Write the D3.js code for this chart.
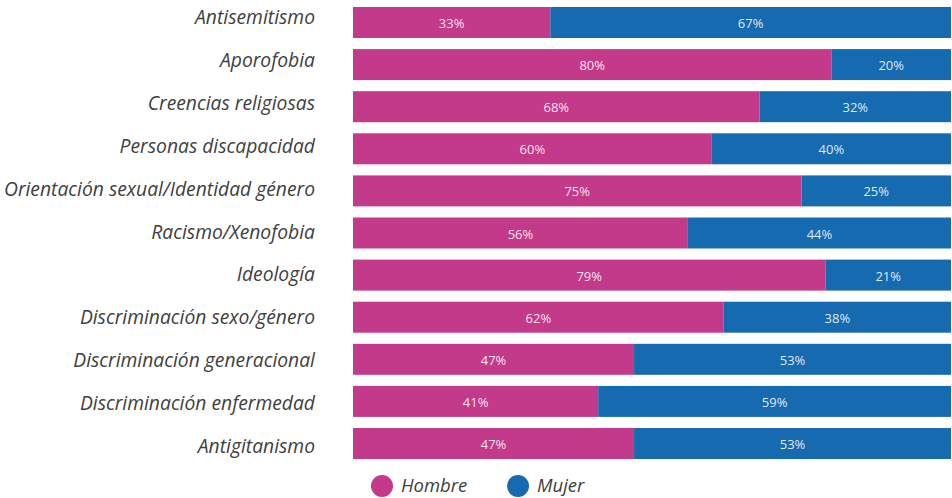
<!DOCTYPE html>
<html>
<head>
<meta charset="utf-8">
<script src="https://cdn.jsdelivr.net/npm/d3@7"></script>
<style>
  body { margin: 0; background: #fff; }
  svg { display: block; font-family: "Open Sans", sans-serif; }
  .cat { font-style: italic; font-size: 19.3px; fill: #404040; }
  .pct { font-size: 13px; fill: #fff; fill-opacity: 0.88; }
  .leg { font-style: italic; font-size: 18.5px; fill: #404040; }
</style>
</head>
<body>
<div id="chart"></div>
<script>
const categories = ['Antisemitismo', 'Aporofobia', 'Creencias religiosas', 'Personas discapacidad',
  'Orientación sexual/Identidad género', 'Racismo/Xenofobia', 'Ideología', 'Discriminación sexo/género',
  'Discriminación generacional', 'Discriminación enfermedad', 'Antigitanismo'];
const hombre = [33, 80, 68, 60, 75, 56, 79, 62, 47, 41, 47];
const mujer = [67, 20, 32, 40, 25, 44, 21, 38, 53, 59, 53];
const seriesNames = ['Hombre', 'Mujer'];
const colors = ['#c43a8a', '#166aaf'];

const width = 952, height = 498;
const margin = { left: 353, right: 1, top: 0 };

const svg = d3.select('#chart').append('svg')
  .attr('width', width)
  .attr('height', height);

const data = categories.map((c, i) => ({ cat: c, Hombre: hombre[i], Mujer: mujer[i] }));
const stacked = d3.stack().keys(seriesNames)(data);

const x = d3.scaleLinear().domain([0, 100]).range([margin.left, width - margin.right]);
const y = d3.scaleBand().domain(categories).range([0, 466]).paddingInner(0.264).paddingOuter(0.166);
// labels are spaced a little wider than the bars in the original
const yLabel = d3.scalePoint().domain(categories).range([24, 453]);
const color = d3.scaleOrdinal().domain(seriesNames).range(colors);

// category labels
svg.append('g').selectAll('text')
  .data(categories)
  .join('text')
  .attr('class', 'cat')
  .attr('x', 315)
  .attr('y', d => yLabel(d))
  .attr('text-anchor', 'end')
  .text(d => d);

// bars
const layer = svg.append('g').selectAll('g')
  .data(stacked)
  .join('g')
  .attr('fill', d => color(d.key));

layer.selectAll('rect')
  .data(d => d)
  .join('rect')
  .attr('x', d => x(d[0]))
  .attr('y', d => y(d.data.cat))
  .attr('width', d => x(d[1]) - x(d[0]))
  .attr('height', y.bandwidth());

layer.selectAll('text')
  .data(d => d)
  .join('text')
  .attr('class', 'pct')
  .attr('x', d => (x(d[0]) + x(d[1])) / 2)
  .attr('y', d => y(d.data.cat) + y.bandwidth() / 2 + 1)
  .attr('dy', '0.35em')
  .attr('text-anchor', 'middle')
  .text(d => (d[1] - d[0]) + '%');

// legend
const legX = [382, 518];
const leg = svg.append('g').selectAll('g')
  .data(seriesNames)
  .join('g')
  .attr('transform', (d, i) => `translate(${legX[i]}, 486)`);
leg.append('circle').attr('r', 11).attr('fill', d => color(d));
leg.append('text')
  .attr('class', 'leg')
  .attr('x', 19)
  .attr('dy', '0.35em')
  .text(d => d);
</script>
</body>
</html>
